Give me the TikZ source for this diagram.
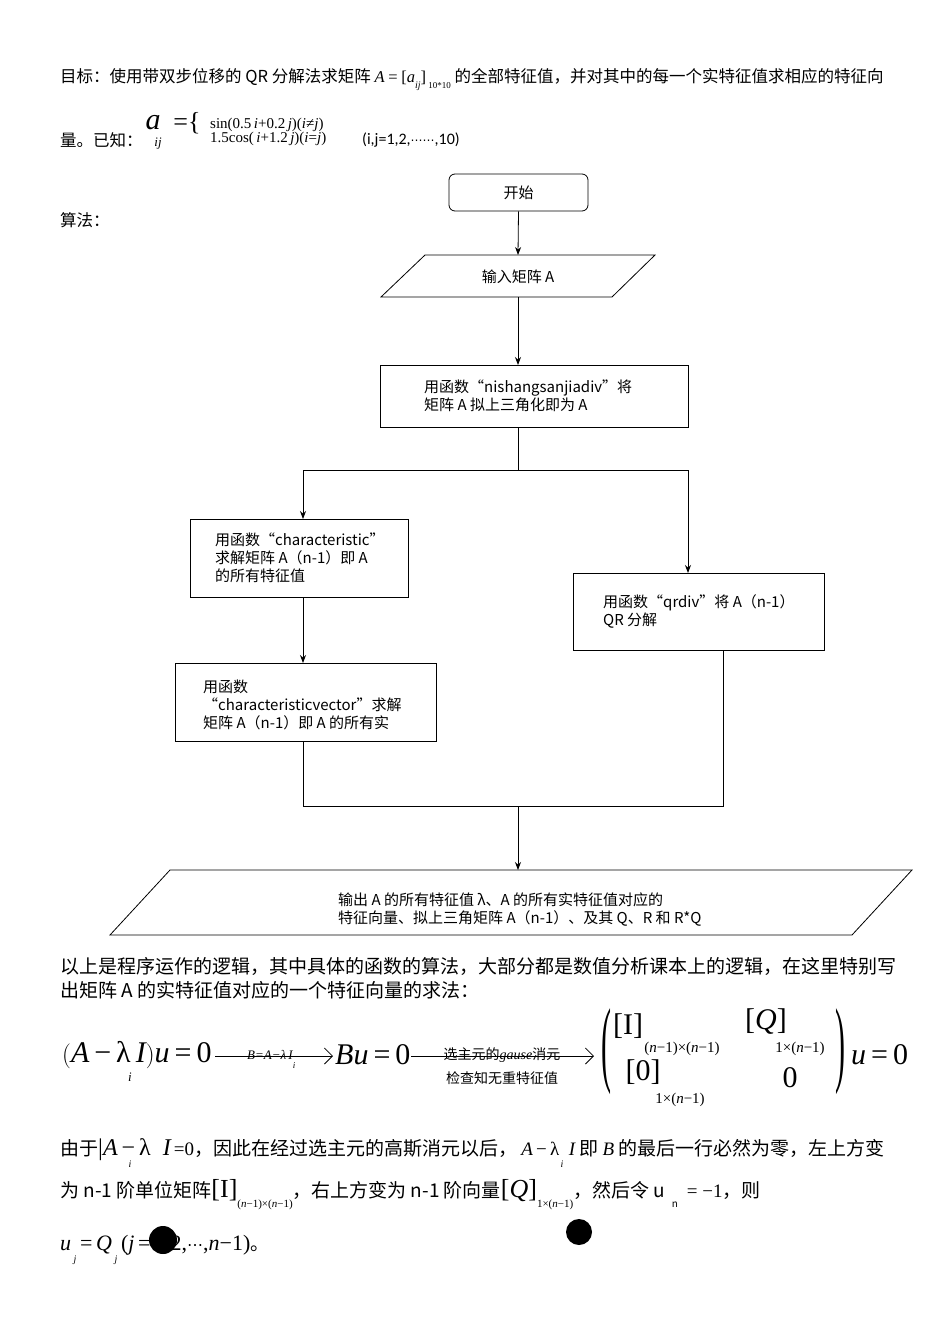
\documentclass[tikz,border=0pt]{standalone}
\usepackage{fontspec}
\setmainfont{Noto Sans CJK SC}
\newfontfamily\tms{Liberation Serif}
\newfontfamily\clb{Carlito}
\newfontfamily\dvs{DejaVu Sans}
\usetikzlibrary{arrows.meta}
\begin{document}
\begin{tikzpicture}[x=1pt,y=-1pt,
  box/.style={draw,thick},
  arr/.style={thick,-{Stealth[length=8pt,width=6pt]}},
  ln/.style={thick},
  t/.style={font=\fontsize{15}{18}\selectfont,inner sep=0,anchor=west,align=left},
  h/.style={font=\fontsize{16.5}{19}\selectfont,inner sep=0,anchor=west,align=left},
  b/.style={font=\fontsize{19}{22}\selectfont,inner sep=0,anchor=west}]
\useasboundingbox (0,0) rectangle (950,1344);
\fill[white] (0,0) rectangle (950,1344);
% header text
\node[h] (h1) at (60,80) {目标：使用带双步位移的 QR 分解法求矩阵 {\tms\itshape A} {\tms =} {\tms [\itshape a}\raisebox{-6pt}{\tms\itshape\fontsize{10}{10}\selectfont ij}{\tms ]}\raisebox{-6pt}{\tms\fontsize{9}{9}\selectfont\ 10*10}\ 的全部特征值，并对其中的每一个实特征值求相应的特征向};
\node[h] (h2) at (60,140) {量。已知：};
\node[inner sep=0] (aij) at (153,123) {\tms\itshape\fontsize{30}{30}\selectfont a};
\node[inner sep=0] (ij) at (158,144) {\tms\itshape\fontsize{13}{13}\selectfont ij};
\node[inner sep=0] (eq) at (187,123) {\tms\fontsize{26}{26}\selectfont =\{};
\node[inner sep=0,anchor=west,align=left] (cases) at (210,132) {\tms\fontsize{15}{19}\selectfont sin(0.5\,\itshape i\upshape+0.2\,\itshape j\upshape)(\itshape i\upshape≠\itshape j\upshape)\\ \tms\fontsize{15}{19}\selectfont 1.5cos(\,\itshape i\upshape+1.2\,\itshape j\upshape)(\itshape i\upshape=\itshape j\upshape)};
\node[t,font=\clb\fontsize{16}{19}\selectfont] (rng) at (362,140) {(i,j=1,2,{\dvs\fontsize{12}{12}\selectfont ⋯⋯},10)};
\node[h] (alg) at (60,220) {算法：};
% flowchart
\node[box,rounded corners=6pt,minimum width=139pt,minimum height=37pt,font=\fontsize{15}{18}\selectfont] (s) at (518.5,192.5) {开始};
\draw[box] (425,255) -- (655,255) -- (612,297) -- (381,297) -- cycle;
\coordinate (inT) at (518,255); \coordinate (inB) at (518,297);
\node[t,anchor=center] (inp) at (518,277) {输入矩阵 A};
\draw[arr] (s.south) -- (inT);
\draw[box] (380,365) rectangle (688,427);
\coordinate (b1T) at (518,365); \coordinate (b1B) at (518,427);
\node[t] at (424,396) {用函数“nishangsanjiadiv”将\\矩阵 A 拟上三角化即为 A};
\draw[arr] (inB) -- (b1T);
\coordinate (j1) at (518,470); \coordinate (jl) at (303,470); \coordinate (jr) at (688,470);
\draw[ln] (b1B) -- (j1); \draw[ln] (jl) -- (jr);
\draw[box] (190,519) rectangle (408,597);
\node[t] at (215,558) {用函数“characteristic”\\求解矩阵 A（n-1）即 A\\的所有特征值};
\draw[box] (573,573) rectangle (824,650);
\node[t] at (603,611) {用函数“qrdiv”将 A（n-1）\\QR 分解};
\draw[arr] (jl) -- (303,519);
\draw[arr] (jr) -- (688,573);
\draw[box] (175,663) rectangle (436,741);
\node[t] at (203,705) {用函数\\“characteristicvector”求解\\矩阵 A（n-1）即 A 的所有实};
\draw[arr] (303,597) -- (303,663);
\coordinate (m) at (518,806);
\draw[ln] (303,741) -- (303,806) -- (723,806) -- (723,650);
\draw[box] (170,870) -- (912,870) -- (852,935) -- (110,935) -- cycle;
\draw[arr] (m) -- (518,870);
\node[t] at (338,909.5) {输出 A 的所有特征值 λ、A 的所有实特征值对应的\\特征向量、拟上三角矩阵 A（n-1）、及其 Q、R 和 R*Q};
% body
\node[b] at (60,966) {以上是程序运作的逻辑，其中具体的函数的算法，大部分都是数值分析课本上的逻辑，在这里特别写};
\node[b] at (60,990) {出矩阵 A 的实特征值对应的一个特征向量的求法：};
% formula
\begin{scope}[font=\tms\fontsize{30}{30}\selectfont]
\node[inner sep=0,anchor=west] (f1) at (62,1055) {$\bigl($\itshape A\upshape\,−\,λ\,\itshape I\upshape$\bigr)$\itshape u\upshape\,=\,0};
\node[inner sep=0,anchor=west] (f2) at (335,1055) {\itshape Bu\upshape\,=\,0};
\node[inner sep=0,anchor=west] (f3) at (851,1055) {\itshape u\upshape\,=\,0};
\end{scope}
\node[inner sep=0,font=\tms\itshape\fontsize{13}{13}\selectfont] at (130,1077) {i};
\draw[thick,-{Straight Barb[length=8pt]}] (215,1056) -- (333,1056);
\node[inner sep=0,font=\tms\itshape\fontsize{13}{13}\selectfont] at (270,1055) {B=A−λ\,I};
\node[inner sep=0,font=\tms\itshape\fontsize{9}{9}\selectfont] at (294,1066) {i};
\draw[thick,-{Straight Barb[length=8pt]}] (411,1056) -- (594,1056);
\node[inner sep=0,font=\fontsize{14}{14}\selectfont] at (502,1055) {选主元的{\tms\itshape gause}消元};
\node[inner sep=0,font=\fontsize{14}{14}\selectfont] at (502,1078) {检查知无重特征值};
\node[inner sep=0,font=\tms\fontsize{50}{50}\selectfont,xscale=0.6,yscale=1.9] at (606,1052) {(};
\node[inner sep=0,font=\tms\fontsize{50}{50}\selectfont,xscale=0.6,yscale=1.9] at (840,1052) {)};
\begin{scope}[font=\tms\fontsize{30}{30}\selectfont]
\node[inner sep=0] at (628,1026) {[I]};
\node[inner sep=0] at (766,1022) {[\itshape Q\upshape]};
\node[inner sep=0] at (643,1072) {[0]};
\node[inner sep=0] at (790,1078) {0};
\end{scope}
\begin{scope}[font=\tms\fontsize{15}{15}\selectfont]
\node[inner sep=0] at (682,1049) {(\itshape n\upshape−1)×(\itshape n\upshape−1)};
\node[inner sep=0] at (800,1049) {1×(\itshape n\upshape−1)};
\node[inner sep=0] at (680,1100) {1×(\itshape n\upshape−1)};
\end{scope}
% last lines
\node[b] at (60,1150) {由于{\tms\fontsize{24}{24}\selectfont |\itshape A\upshape\,−\,λ\ \ \itshape I\upshape\fontsize{19}{19}\selectfont\,=0}，因此在经过选主元的高斯消元以后，\ {\tms\itshape A\upshape\,−\,λ\ \ \itshape I} 即 {\tms\itshape B} 的最后一行必然为零，左上方变};
\node[inner sep=0,font=\tms\itshape\fontsize{10}{10}\selectfont] at (130,1164) {i};
\node[inner sep=0,font=\tms\itshape\fontsize{10}{10}\selectfont] at (562,1164) {i};
\node[b] at (60,1195) {为 n-1 阶单位矩阵{\tms\fontsize{26}{26}\selectfont [I]}\raisebox{-10pt}{\tms\fontsize{11}{11}\selectfont (\itshape n\upshape−1)×(\itshape n\upshape−1)}，右上方变为 n-1 阶向量{\tms\fontsize{26}{26}\selectfont [\itshape Q\upshape]}\raisebox{-10pt}{\tms\fontsize{11}{11}\selectfont 1×(\itshape n\upshape−1)}，然后令 u\raisebox{-10pt}{\fontsize{10}{10}\selectfont\ \ \ n} {\tms\ = −1}，则};
\node[b] at (60,1250) {{\tms\fontsize{22}{22}\selectfont\itshape u\raisebox{-12pt}{\fontsize{10}{10}\selectfont\ j}\upshape\,=\,\itshape Q\raisebox{-12pt}{\fontsize{10}{10}\selectfont\ j}\upshape\,(\itshape j\upshape\,=\,1,2,{\dvs\upshape\fontsize{16}{16}\selectfont ⋯},\itshape n\upshape−1)}。};
\fill (163,1240) circle (14);
\fill (579,1232) circle (13);
\end{tikzpicture}
\end{document}
